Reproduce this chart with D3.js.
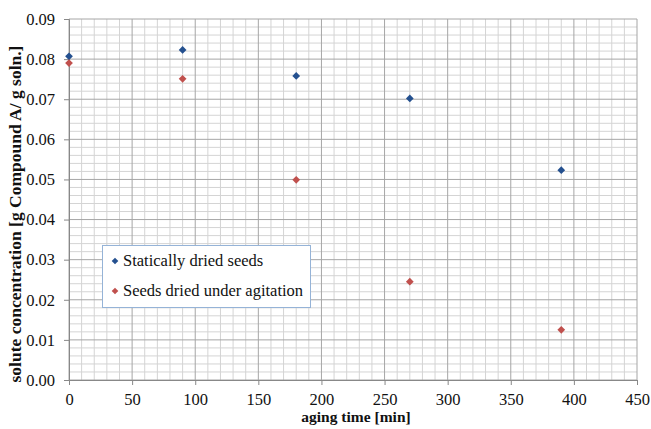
<!DOCTYPE html>
<html>
<head>
<meta charset="utf-8">
<script src="https://cdn.jsdelivr.net/npm/d3@7"></script>
<style>
  html, body { margin: 0; padding: 0; background: #fff; }
  svg { display: block; }
</style>
</head>
<body>
<svg id="chart" width="651" height="429"></svg>
<script>
// Aging time in minutes for each measurement
const agingTime = [0, 90, 180, 270, 390];
// Solute concentration [g Compound A / g soln.]
const staticSeeds = [0.0807, 0.0823, 0.0758, 0.0702, 0.0523];
const agitatedSeeds = [0.0790, 0.0751, 0.0499, 0.0245, 0.0125];
const seriesNames = ["Statically dried seeds", "Seeds dried under agitation"];
const seriesColors = ["#24508f", "#c0504d"];
const xTicks = [0, 50, 100, 150, 200, 250, 300, 350, 400, 450];
const yTicks = [0, 0.01, 0.02, 0.03, 0.04, 0.05, 0.06, 0.07, 0.08, 0.09];

const SERIF = "'Liberation Serif', 'Times New Roman', Times, serif";
const svg = d3.select("#chart");
const margin = { left: 69, right: 14, top: 19, bottom: 49 };
const W = 651, H = 429;

const x = d3.scaleLinear().domain([0, 450]).range([margin.left, W - margin.right]);
const y = d3.scaleLinear().domain([0, 0.09]).range([H - margin.bottom, margin.top]);

const grid = svg.append("g");
// minor grid: every 10 min and every 0.002
d3.range(0, 451, 10).forEach(v => {
  if (v % 50 === 0) return;
  grid.append("line").attr("x1", x(v)).attr("x2", x(v)).attr("y1", y(0)).attr("y2", y(0.09))
    .attr("stroke", "#d4d4d4").attr("stroke-width", 1);
});
d3.range(0, 46).forEach(i => {
  if (i % 5 === 0) return;
  const v = i * 0.002;
  grid.append("line").attr("x1", x(0)).attr("x2", x(450)).attr("y1", y(v)).attr("y2", y(v))
    .attr("stroke", "#d4d4d4").attr("stroke-width", 1);
});
// major grid
xTicks.forEach(v => {
  grid.append("line").attr("x1", x(v)).attr("x2", x(v)).attr("y1", y(0)).attr("y2", y(0.09))
    .attr("stroke", "#a6a6a6").attr("stroke-width", 1);
});
yTicks.forEach(v => {
  grid.append("line").attr("x1", x(0)).attr("x2", x(450)).attr("y1", y(v)).attr("y2", y(v))
    .attr("stroke", "#a6a6a6").attr("stroke-width", 1);
});

// axes
const xAxis = svg.append("g").attr("transform", `translate(0,${y(0)})`)
  .call(d3.axisBottom(x).tickValues(xTicks).tickSize(5).tickPadding(8).tickFormat(d3.format("d")));
const yAxis = svg.append("g").attr("transform", `translate(${x(0)},0)`)
  .call(d3.axisLeft(y).tickValues(yTicks).tickSize(5).tickPadding(9).tickFormat(d3.format(".2f")));
[xAxis, yAxis].forEach(a => {
  a.attr("font-family", null).attr("font-size", null);
  a.select(".domain").attr("stroke", "#888");
  a.selectAll(".tick line").attr("stroke", "#888");
  a.selectAll(".tick text").style("font-family", SERIF).style("font-size", "16.5px").attr("fill", "#111");
});

// series markers (diamonds = squares turned 45°)
const diamond = d3.symbol().type(d3.symbolSquare).size(30);
[staticSeeds, agitatedSeeds].forEach((vals, si) => {
  svg.append("g").selectAll("path").data(vals).join("path")
    .attr("d", diamond)
    .attr("transform", (d, i) => `translate(${x(agingTime[i])},${y(d)}) rotate(45)`)
    .attr("fill", seriesColors[si]);
});

// legend
const lg = svg.append("g");
lg.append("rect").attr("x", 102.5).attr("y", 245.5).attr("width", 208).attr("height", 62)
  .attr("fill", "#fff").attr("stroke", "#95b3d7").attr("stroke-width", 1);
seriesNames.forEach((n, i) => {
  const cy = 261 + i * 30;
  lg.append("path").attr("d", d3.symbol().type(d3.symbolSquare).size(22))
    .attr("transform", `translate(115,${cy}) rotate(45)`).attr("fill", seriesColors[i]);
  lg.append("text").attr("x", 123).attr("y", cy + 5).style("font-family", SERIF)
    .style("font-size", "16.5px").attr("fill", "#111").text(n);
});

// axis titles
svg.append("text").attr("x", 356).attr("y", 422).attr("text-anchor", "middle")
  .style("font-family", SERIF).style("font-size", "15.5px").style("font-weight", "bold")
  .attr("fill", "#111").text("aging time [min]");
svg.append("text").attr("transform", `translate(21,214) rotate(-90)`)
  .attr("text-anchor", "middle").style("font-family", SERIF).style("font-size", "17.5px")
  .style("font-weight", "bold").attr("fill", "#111")
  .text("solute concentration [g Compound A/ g soln.]");
</script>
</body>
</html>
